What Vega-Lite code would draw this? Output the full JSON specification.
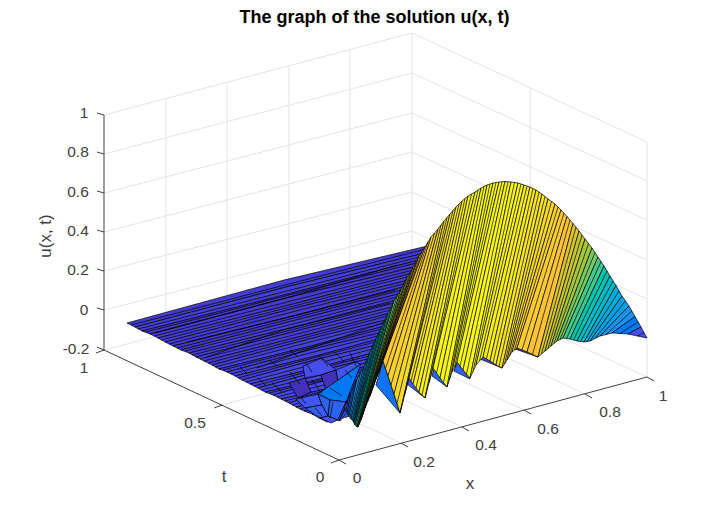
{"$schema":"https://vega.github.io/schema/vega-lite/v6.json","width":705,"height":522,"autosize":"none","padding":0,"background":"white","view":{"stroke":null},
"title":{"text":"The graph of the solution u(x, t)","font":"Liberation Sans","fontSize":18,"fontWeight":"bold","color":"#000000","anchor":"middle","frame":"group","dx":22,"offset":-27},
"layer":[
{"data":{"values":[
{"a":104,"b":115,"a2":412,"b2":33},{"a":104,"b":154,"a2":412,"b2":73},{"a":104,"b":193,"a2":412,"b2":113},{"a":104,"b":232,"a2":412,"b2":152},{"a":104,"b":271,"a2":412,"b2":192},{"a":104,"b":310,"a2":412,"b2":231},{"a":104,"b":350,"a2":412,"b2":269},
{"a":412,"b":33,"a2":647,"b2":142},{"a":412,"b":73,"a2":647,"b2":181},{"a":412,"b":113,"a2":647,"b2":220},{"a":412,"b":152,"a2":647,"b2":260},{"a":412,"b":192,"a2":647,"b2":299},{"a":412,"b":231,"a2":647,"b2":338},{"a":412,"b":269,"a2":647,"b2":377},
{"a":401,"b":443,"a2":166,"b2":333},{"a":462,"b":427,"a2":227,"b2":317},{"a":524,"b":410,"a2":289,"b2":300},{"a":585,"b":394,"a2":350,"b2":284},{"a":222,"b":405,"a2":530,"b2":323},
{"a":166,"b":98,"a2":166,"b2":333},{"a":227,"b":82,"a2":227,"b2":317},{"a":289,"b":65,"a2":289,"b2":300},{"a":350,"b":49,"a2":350,"b2":284},{"a":412,"b":33,"a2":412,"b2":269},{"a":530,"b":87,"a2":530,"b2":323},{"a":647,"b":142,"a2":647,"b2":377}
]},"mark":{"type":"rule","stroke":"#e4e4e4","strokeWidth":1},"encoding":{"x":{"field":"a","type":"quantitative","scale":{"domain":[0,705],"nice":false,"zero":false},"axis":null},"y":{"field":"b","type":"quantitative","scale":{"domain":[522,0],"nice":false,"zero":false},"axis":null},"x2":{"field":"a2"},"y2":{"field":"b2"}}},
{"data":{"values":[
{"a":104,"b":115,"a2":104,"b2":350},{"a":104,"b":350,"a2":339,"b2":460},{"a":339,"b":460,"a2":647,"b2":377},
{"a":104,"b":115,"a2":97,"b2":113},{"a":104,"b":154,"a2":97,"b2":152},{"a":104,"b":193,"a2":97,"b2":191},{"a":104,"b":232,"a2":97,"b2":230},{"a":104,"b":271,"a2":97,"b2":269},{"a":104,"b":310,"a2":97,"b2":308},{"a":104,"b":350,"a2":97,"b2":347},
{"a":104,"b":350,"a2":96,"b2":353},{"a":222,"b":405,"a2":214,"b2":408},{"a":339,"b":460,"a2":331,"b2":463},
{"a":339,"b":460,"a2":346,"b2":464},{"a":401,"b":443,"a2":408,"b2":447},{"a":462,"b":427,"a2":469,"b2":431},{"a":524,"b":410,"a2":531,"b2":414},{"a":585,"b":394,"a2":592,"b2":398},{"a":647,"b":377,"a2":654,"b2":381}
]},"mark":{"type":"rule","stroke":"#404040","strokeWidth":1},"encoding":{"x":{"field":"a","type":"quantitative","axis":null},"y":{"field":"b","type":"quantitative","axis":null},"x2":{"field":"a2"},"y2":{"field":"b2"}}},
{"data":{"values":[
{"p":1,"c":0.0,"o":[1,2,3,4,5,6],"h":[127,284,440,437,286,135],"v":[323,280,243,250,287,327]},
{"p":2,"c":0.01,"o":[1,2,3,4,5,6],"h":[135,286,437,434,288,142],"v":[327,287,250,256,294,331]},
{"p":3,"c":-0.01,"o":[1,2,3,4,5,6],"h":[142,288,434,431,290,150],"v":[331,294,256,263,297,334]},
{"p":4,"c":0.0,"o":[1,2,3,4,5,6],"h":[150,290,431,428,293,158],"v":[334,297,263,269,304,338]},
{"p":5,"c":0.01,"o":[1,2,3,4,5,6],"h":[158,293,428,425,295,165],"v":[338,304,269,276,308,342]},
{"p":6,"c":0.0,"o":[1,2,3,4,5,6],"h":[165,295,425,422,297,173],"v":[342,308,276,282,315,346]},
{"p":7,"c":-0.01,"o":[1,2,3,4,5,6],"h":[173,297,422,418,300,181],"v":[346,315,282,289,319,350]},
{"p":8,"c":0.01,"o":[1,2,3,4,5,6],"h":[181,300,418,415,302,189],"v":[350,319,289,295,325,353]},
{"p":9,"c":0.0,"o":[1,2,3,4,5,6],"h":[189,302,415,412,304,196],"v":[353,325,295,302,329,357]},
{"p":10,"c":0.01,"o":[1,2,3,4,5,6],"h":[196,304,412,409,306,204],"v":[357,329,302,308,335,361]},
{"p":11,"c":0.0,"o":[1,2,3,4,5,6],"h":[204,306,409,406,309,212],"v":[361,335,308,315,339,365]},
{"p":12,"c":0.02,"o":[1,2,3,4,5,6],"h":[212,309,406,403,311,219],"v":[365,339,315,321,346,369]},
{"p":13,"c":0.0,"o":[1,2,3,4,5,6],"h":[219,311,403,400,313,227],"v":[369,346,321,328,349,372]},
{"p":14,"c":0.02,"o":[1,2,3,4,5,6],"h":[227,313,400,397,316,235],"v":[372,349,328,334,356,376]},
{"p":15,"c":0.01,"o":[1,2,3,4,5,6],"h":[235,316,397,394,318,242],"v":[376,356,334,341,359,380]},
{"p":16,"c":0.03,"o":[1,2,3,4,5,6],"h":[242,318,394,391,320,250],"v":[380,359,341,348,367,384]},
{"p":17,"c":0.01,"o":[1,2,3,4,5,6],"h":[250,320,391,388,323,258],"v":[384,367,348,354,370,388]},
{"p":18,"c":0.03,"o":[1,2,3,4,5,6],"h":[258,323,388,385,325,265],"v":[388,370,354,361,378,392]},
{"p":19,"c":0.02,"o":[1,2,3,4,5,6],"h":[265,325,385,382,327,273],"v":[392,378,361,367,380,395]},
{"p":20,"c":0.04,"o":[1,2,3,4,5,6],"h":[273,327,382,378,330,281],"v":[395,380,367,374,388,399]},
{"p":21,"c":0.02,"o":[1,2,3,4,5,6],"h":[281,330,378,375,332,289],"v":[399,388,374,380,390,403]},
{"p":22,"c":0.05,"o":[1,2,3,4,5,6],"h":[289,332,375,372,334,296],"v":[403,390,380,387,398,407]},
{"p":23,"c":0.03,"o":[1,2,3,4,5,6],"h":[296,334,372,369,336,304],"v":[407,398,387,393,401,411]},
{"p":24,"c":0.05,"o":[1,2,3,4,5,6],"h":[304,336,369,366,339,312],"v":[411,401,393,400,408,414]},
{"p":25,"c":0.03,"o":[1,2,3,4,5,6],"h":[312,339,366,363,341,319],"v":[414,408,400,406,412,418]},
{"p":26,"c":0.05,"o":[1,2,3,4,5,6],"h":[319,341,363,360,343,327],"v":[418,412,406,413,418,422]}
]},"transform":[{"flatten":["o","h","v"]}],
"mark":{"type":"line","interpolate":"linear-closed","stroke":"#000000","strokeWidth":0.7,"strokeJoin":"round"},
"encoding":{"x":{"field":"h","type":"quantitative","axis":null},"y":{"field":"v","type":"quantitative","axis":null},"detail":{"field":"p"},"order":{"field":"o"},
"fill":{"field":"c","type":"quantitative","legend":null,"scale":{"domain":[-0.07,0.064,0.198,0.331,0.465,0.599,0.733,0.866,1],"range":["#3e26a8","#4752f4","#2796eb","#12b1d6","#37c897","#abc739","#fec338","#f5de28","#f9fb15"]}}}},
{"data":{"values":[
{"l":"h0","o":[1,2,3],"h":[131,285,438],"v":[325,285,246]},
{"l":"h1","o":[1,2,3],"h":[138,287,435],"v":[329,291,253]},
{"l":"h2","o":[1,2,3],"h":[146,289,432],"v":[332,295,259]},
{"l":"h3","o":[1,2,3],"h":[154,291,429],"v":[336,301,266]},
{"l":"h4","o":[1,2,3],"h":[161,294,426],"v":[340,306,272]},
{"l":"h5","o":[1,2,3],"h":[169,296,423],"v":[344,311,279]},
{"l":"h6","o":[1,2,3],"h":[177,298,420],"v":[348,317,285]},
{"l":"h7","o":[1,2,3],"h":[185,301,416],"v":[351,322,292]},
{"l":"h8","o":[1,2,3],"h":[192,303,413],"v":[355,327,298]},
{"l":"h9","o":[1,2,3],"h":[200,305,410],"v":[359,332,305]},
{"l":"h10","o":[1,2,3],"h":[208,307,407],"v":[363,337,311]},
{"l":"h11","o":[1,2,3],"h":[215,310,404],"v":[367,342,318]},
{"l":"h12","o":[1,2,3],"h":[223,312,401],"v":[370,347,324]},
{"l":"h13","o":[1,2,3],"h":[231,314,398],"v":[374,352,331]},
{"l":"h14","o":[1,2,3],"h":[238,317,395],"v":[378,357,337]},
{"l":"h15","o":[1,2,3],"h":[246,319,392],"v":[382,363,344]},
{"l":"h16","o":[1,2,3],"h":[254,321,389],"v":[386,368,351]},
{"l":"h17","o":[1,2,3],"h":[261,324,386],"v":[390,374,357]},
{"l":"h18","o":[1,2,3],"h":[269,326,383],"v":[393,379,364]},
{"l":"h19","o":[1,2,3],"h":[277,328,380],"v":[397,384,370]},
{"l":"h20","o":[1,2,3],"h":[285,331,376],"v":[401,389,377]},
{"l":"h21","o":[1,2,3],"h":[292,333,373],"v":[405,394,383]},
{"l":"h22","o":[1,2,3],"h":[300,335,370],"v":[409,399,390]},
{"l":"h23","o":[1,2,3],"h":[308,337,367],"v":[412,404,396]},
{"l":"A","o":[1,2,3],"h":[155,290,397],"v":[333,297,265]},
{"l":"B","o":[1,2,3],"h":[187,297,395],"v":[342,315,290]},
{"l":"C","o":[1,2,3],"h":[207,283,390],"v":[357,330,303]},
{"l":"D","o":[1,2,3],"h":[257,300,385],"v":[368,352,322]}
]},"transform":[{"flatten":["o","h","v"]}],"mark":{"type":"line","stroke":"#000000","strokeWidth":0.7},
"encoding":{"x":{"field":"h","type":"quantitative","axis":null},"y":{"field":"v","type":"quantitative","axis":null},"detail":{"field":"l"},"order":{"field":"o"}}},
{"data":{"values":[
{"p":30,"c":0.05,"o":[1,2,3,4,5],"h":[303,322,336,321,305],"v":[366,358,370,375,378]},
{"p":31,"c":0.07,"o":[1,2,3,4,5,6],"h":[336,355,361,318,326,338],"v":[370,362,364,394,390,383]},
{"p":32,"c":-0.04,"o":[1,2,3,4],"h":[289,305,311,298],"v":[383,378,392,398]},
{"p":33,"c":-0.04,"o":[1,2,3,4],"h":[321,336,338,326],"v":[375,370,383,390]},
{"p":34,"c":0.13,"o":[1,2,3,4],"h":[318,361,346,330],"v":[394,364,402,400]},
{"p":35,"c":0.07,"o":[1,2,3,4],"h":[296,318,322,305],"v":[399,394,405,408]},
{"p":36,"c":0.09,"o":[1,2,3,4],"h":[318,330,328,322],"v":[394,400,416,405]},
{"p":37,"c":0.08,"o":[1,2,3,4],"h":[305,322,328,320],"v":[408,405,416,418]},
{"p":38,"c":0.09,"o":[1,2,3,4],"h":[330,346,338,328],"v":[400,402,420,416]},
{"p":39,"c":0.08,"o":[1,2,3,4],"h":[346,347,340,338],"v":[402,412,421,420]},
{"p":40,"c":0.06,"o":[1,2,3,4],"h":[320,328,338,331],"v":[418,416,420,423]},
{"p":41,"c":0.12,"o":[1,2,3],"h":[383,400,376],"v":[360,413,385]},
{"p":42,"c":0.08,"o":[1,2,3],"h":[410,425,407],"v":[372,398,384]},
{"p":43,"c":0.1,"o":[1,2,3],"h":[435,447,432],"v":[364,387,376]},
{"p":44,"c":0.09,"o":[1,2,3],"h":[457,470,454],"v":[362,379,371]},
{"p":45,"c":0.03,"o":[1,2,3],"h":[483,502,480],"v":[356,368,359]},
{"p":46,"c":0.03,"o":[1,2,3],"h":[517,538,515],"v":[347,357,349]},
{"p":100,"c":0,"o":[1,2,3,4],"h":[339,345,345,339],"v":[421,407,410,421]},
{"p":101,"c":0.06,"o":[1,2,3,4],"h":[345,351,347,345],"v":[407,393,413,410]},
{"p":102,"c":0.13,"o":[1,2,3,4],"h":[351,357,349,347],"v":[393,379,416,413]},
{"p":103,"c":0.19,"o":[1,2,3,4],"h":[357,364,351,349],"v":[379,366,419,416]},
{"p":104,"c":0.25,"o":[1,2,3,4],"h":[364,370,353,351],"v":[366,352,421,419]},
{"p":105,"c":0.31,"o":[1,2,3,4],"h":[370,376,354,353],"v":[352,339,423,421]},
{"p":106,"c":0.37,"o":[1,2,3,4],"h":[376,382,355,354],"v":[339,326,425,423]},
{"p":107,"c":0.43,"o":[1,2,3,4],"h":[382,388,357,355],"v":[326,313,427,425]},
{"p":108,"c":0.48,"o":[1,2,3,4],"h":[388,394,358,357],"v":[313,301,427,427]},
{"p":109,"c":0.54,"o":[1,2,3,4],"h":[394,401,361,358],"v":[301,289,420,427]},
{"p":110,"c":0.59,"o":[1,2,3,4],"h":[401,407,365,361],"v":[289,278,408,420]},
{"p":111,"c":0.64,"o":[1,2,3,4],"h":[407,413,370,365],"v":[278,267,396,408]},
{"p":112,"c":0.68,"o":[1,2,3,4],"h":[413,419,376,370],"v":[267,256,379,396]},
{"p":113,"c":0.73,"o":[1,2,3,4],"h":[419,425,383,376],"v":[256,247,361,379]},
{"p":114,"c":0.77,"o":[1,2,3,4],"h":[425,431,388,383],"v":[247,237,376,361]},
{"p":115,"c":0.81,"o":[1,2,3,4],"h":[431,438,394,388],"v":[237,229,394,376]},
{"p":116,"c":0.84,"o":[1,2,3,4],"h":[438,444,400,394],"v":[229,221,413,394]},
{"p":117,"c":0.88,"o":[1,2,3,4],"h":[444,450,409,400],"v":[221,214,378,413]},
{"p":118,"c":0.9,"o":[1,2,3,4],"h":[450,456,413,409],"v":[214,207,384,378]},
{"p":119,"c":0.93,"o":[1,2,3,4],"h":[456,462,419,413],"v":[207,201,392,384]},
{"p":120,"c":0.95,"o":[1,2,3,4],"h":[462,468,425,419],"v":[201,196,398,392]},
{"p":121,"c":0.97,"o":[1,2,3,4],"h":[468,475,433,425],"v":[196,192,368,398]},
{"p":122,"c":0.98,"o":[1,2,3,4],"h":[475,481,440,433],"v":[192,188,378,368]},
{"p":123,"c":0.99,"o":[1,2,3,4],"h":[481,487,447,440],"v":[188,185,387,378]},
{"p":124,"c":1,"o":[1,2,3,4],"h":[487,493,452,447],"v":[185,183,372,387]},
{"p":125,"c":1,"o":[1,2,3,4],"h":[493,499,457,452],"v":[183,182,362,372]},
{"p":126,"c":1,"o":[1,2,3,4],"h":[499,505,463,457],"v":[182,181.5,370,362]},
{"p":127,"c":0.99,"o":[1,2,3,4],"h":[505,511,470,463],"v":[181.5,182,378,370]},
{"p":128,"c":0.98,"o":[1,2,3,4],"h":[511,518,476,470],"v":[182,183,365,378]},
{"p":129,"c":0.97,"o":[1,2,3,4],"h":[518,524,483,476],"v":[183,185,357,365]},
{"p":130,"c":0.95,"o":[1,2,3,4],"h":[524,530,490,483],"v":[185,187,361,357]},
{"p":131,"c":0.93,"o":[1,2,3,4],"h":[530,536,496,490],"v":[187,190,365,361]},
{"p":132,"c":0.9,"o":[1,2,3,4],"h":[536,542,502,496],"v":[190,194,368,365]},
{"p":133,"c":0.88,"o":[1,2,3,4],"h":[542,548,507,502],"v":[194,199,360,368]},
{"p":134,"c":0.84,"o":[1,2,3,4],"h":[548,555,512,507],"v":[199,204,352,360]},
{"p":135,"c":0.81,"o":[1,2,3,4],"h":[555,561,517,512],"v":[204,210,348,352]},
{"p":136,"c":0.77,"o":[1,2,3,4],"h":[561,567,527,517],"v":[210,216.5,352,348]},
{"p":137,"c":0.73,"o":[1,2,3,4],"h":[567,573,538,527],"v":[216.5,223.5,357,352]},
{"p":138,"c":0.68,"o":[1,2,3,4],"h":[573,579,545,538],"v":[223.5,231,351,357]},
{"p":139,"c":0.64,"o":[1,2,3,4],"h":[579,585,551,545],"v":[231,239,346,351]},
{"p":140,"c":0.59,"o":[1,2,3,4],"h":[585,592,557,551],"v":[239,248,341,346]},
{"p":141,"c":0.54,"o":[1,2,3,4],"h":[592,598,563,557],"v":[248,257,338,341]},
{"p":142,"c":0.48,"o":[1,2,3,4],"h":[598,604,570,563],"v":[257,266,339,338]},
{"p":143,"c":0.43,"o":[1,2,3,4],"h":[604,610,577,570],"v":[266,276,341,339]},
{"p":144,"c":0.37,"o":[1,2,3,4],"h":[610,616,584,577],"v":[276,285.5,342,341]},
{"p":145,"c":0.31,"o":[1,2,3,4],"h":[616,622,590,584],"v":[285.5,296,341,342]},
{"p":146,"c":0.25,"o":[1,2,3,4],"h":[622,629,600,590],"v":[296,306,336,341]},
{"p":147,"c":0.19,"o":[1,2,3,4],"h":[629,635,612,600],"v":[306,316.5,333,336]},
{"p":148,"c":0.13,"o":[1,2,3,4],"h":[635,641,628,612],"v":[316.5,327,334,333]},
{"p":149,"c":0.06,"o":[1,2,3,4],"h":[641,647,647,628],"v":[327,338,338,334]}
]},"transform":[{"flatten":["o","h","v"]}],
"mark":{"type":"line","interpolate":"linear-closed","stroke":"#000000","strokeWidth":0.7,"strokeJoin":"round"},
"encoding":{"x":{"field":"h","type":"quantitative","axis":null},"y":{"field":"v","type":"quantitative","axis":null},"detail":{"field":"p"},"order":{"field":"o"},
"fill":{"field":"c","type":"quantitative","legend":null,"scale":{"domain":[-0.07,0.064,0.198,0.331,0.465,0.599,0.733,0.866,1],"range":["#3e26a8","#4752f4","#2796eb","#12b1d6","#37c897","#abc739","#fec338","#f5de28","#f9fb15"]}}}},
{"data":{"values":[
{"a":348,"b":400,"a2":346,"b2":411.5},{"a":354,"b":386,"a2":348,"b2":414.5},{"a":360.5,"b":372.5,"a2":350,"b2":417.5},{"a":367,"b":359,"a2":352,"b2":420},{"a":373,"b":345.5,"a2":353.5,"b2":422},{"a":379,"b":332.5,"a2":354.5,"b2":424},{"a":385,"b":319.5,"a2":356,"b2":426},{"a":391,"b":307,"a2":357.5,"b2":427},{"a":397.5,"b":295,"a2":359.5,"b2":423.5},{"a":404,"b":283.5,"a2":363,"b2":414},{"a":410,"b":272.5,"a2":367.5,"b2":402},{"a":416,"b":261.5,"a2":373,"b2":387.5},{"a":422,"b":251.5,"a2":379.5,"b2":370},{"a":428,"b":242,"a2":385.5,"b2":368.5},{"a":434.5,"b":233,"a2":391,"b2":385},{"a":441,"b":225,"a2":397,"b2":403.5},{"a":447,"b":217.5,"a2":404.5,"b2":395.5},{"a":453,"b":210.5,"a2":411,"b2":381},{"a":459,"b":204,"a2":416,"b2":388},{"a":465,"b":198.5,"a2":422,"b2":395},{"a":471.5,"b":194,"a2":429,"b2":383},{"a":478,"b":190,"a2":436.5,"b2":373},{"a":484,"b":186.5,"a2":443.5,"b2":382.5},{"a":490,"b":184,"a2":449.5,"b2":379.5},{"a":496,"b":182.5,"a2":454.5,"b2":367},{"a":502,"b":181.8,"a2":460,"b2":366},{"a":508,"b":181.8,"a2":466.5,"b2":374},{"a":514.5,"b":182.5,"a2":473,"b2":371.5},{"a":521,"b":184,"a2":479.5,"b2":361},{"a":527,"b":186,"a2":486.5,"b2":359},{"a":533,"b":188.5,"a2":493,"b2":363},{"a":539,"b":192,"a2":499,"b2":366.5},{"a":545,"b":196.5,"a2":504.5,"b2":364},{"a":551.5,"b":201.5,"a2":509.5,"b2":356},{"a":558,"b":207,"a2":514.5,"b2":350},{"a":564,"b":213,"a2":522,"b2":350},{"a":570,"b":220,"a2":532.5,"b2":354.5},{"a":576,"b":227,"a2":541.5,"b2":354},{"a":582,"b":235,"a2":548,"b2":348.5},{"a":588.5,"b":243.5,"a2":554,"b2":343.5},{"a":595,"b":252.5,"a2":560,"b2":339.5},{"a":601,"b":261.5,"a2":566.5,"b2":338.5},{"a":607,"b":271,"a2":573.5,"b2":340},{"a":613,"b":281,"a2":580.5,"b2":341.5},{"a":619,"b":291,"a2":587,"b2":341.5},{"a":625.5,"b":301,"a2":595,"b2":338.5},{"a":632,"b":311,"a2":606,"b2":334.5},{"a":638,"b":322,"a2":620,"b2":333.5},{"a":644,"b":332.5,"a2":637.5,"b2":336},
{"a":290,"b":372,"a2":300,"b2":384},{"a":305,"b":362,"a2":312,"b2":372},{"a":318,"b":355,"a2":328,"b2":366},{"a":272,"b":383,"a2":282,"b2":392},{"a":312,"b":380,"a2":322,"b2":394},{"a":335,"b":352,"a2":344,"b2":362},{"a":345,"b":370,"a2":352,"b2":378},{"a":300,"b":396,"a2":306,"b2":404},{"a":330,"b":388,"a2":342,"b2":396},{"a":315,"b":408,"a2":322,"b2":416},{"a":333,"b":402,"a2":330,"b2":418},{"a":350,"b":353,"a2":356,"b2":366},{"a":258,"b":378,"a2":266,"b2":386},{"a":240,"b":367,"a2":247,"b2":374},{"a":270,"b":360,"a2":277,"b2":366},{"a":290,"b":350,"a2":297,"b2":356}
]},"mark":{"type":"rule","stroke":"#000000","strokeWidth":0.7},"encoding":{"x":{"field":"a","type":"quantitative","axis":null},"y":{"field":"b","type":"quantitative","axis":null},"x2":{"field":"a2"},"y2":{"field":"b2"}}},
{"data":{"values":[
{"h":84,"v":113,"t":"1"},{"h":78,"v":152,"t":"0.8"},{"h":78,"v":192,"t":"0.6"},{"h":78,"v":231,"t":"0.4"},{"h":78,"v":270,"t":"0.2"},{"h":84,"v":310,"t":"0"},{"h":76,"v":349,"t":"-0.2"},
{"h":84,"v":368,"t":"1"},{"h":195,"v":423,"t":"0.5"},{"h":320,"v":477,"t":"0"},
{"h":357,"v":478,"t":"0"},{"h":424,"v":462,"t":"0.2"},{"h":486,"v":445,"t":"0.4"},{"h":548,"v":429,"t":"0.6"},{"h":610,"v":412,"t":"0.8"},{"h":663,"v":396,"t":"1"}
]},"mark":{"type":"text","font":"Liberation Sans","fontSize":15.5,"fill":"#404040","align":"center","baseline":"middle"},
"encoding":{"x":{"field":"h","type":"quantitative","axis":null},"y":{"field":"v","type":"quantitative","axis":null},"text":{"field":"t"}}},
{"data":{"values":[{"h":224,"v":477,"t":"t"},{"h":470,"v":484,"t":"x"}]},"mark":{"type":"text","font":"Liberation Sans","fontSize":17,"fill":"#404040","align":"center","baseline":"middle"},
"encoding":{"x":{"field":"h","type":"quantitative","axis":null},"y":{"field":"v","type":"quantitative","axis":null},"text":{"field":"t"}}},
{"data":{"values":[{"h":46,"v":236,"t":"u(x, t)"}]},"mark":{"type":"text","font":"Liberation Sans","fontSize":17,"fill":"#404040","align":"center","baseline":"middle","angle":270},
"encoding":{"x":{"field":"h","type":"quantitative","axis":null},"y":{"field":"v","type":"quantitative","axis":null},"text":{"field":"t"}}}
]}
